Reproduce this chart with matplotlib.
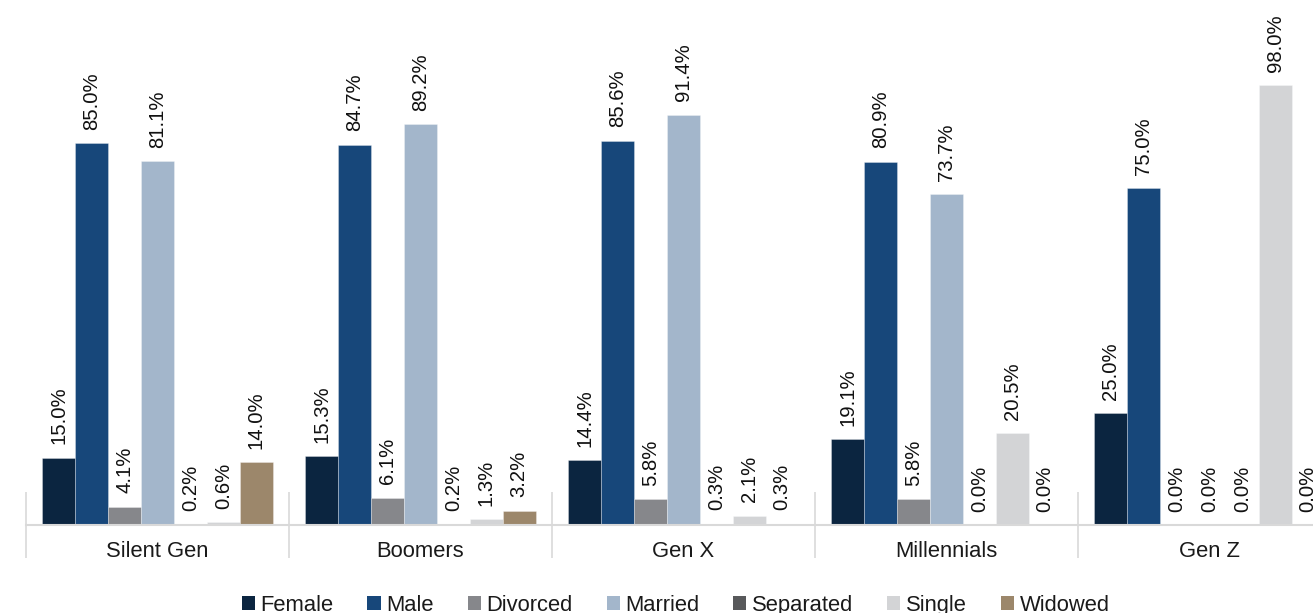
import matplotlib
matplotlib.use("Agg")
import matplotlib.pyplot as plt
from matplotlib.patches import Patch
import numpy as np

plt.rcParams['font.family'] = ['Liberation Sans', 'DejaVu Sans']

generations = ["Silent Gen", "Boomers", "Gen X", "Millennials", "Gen Z"]
series_names = ["Female", "Male", "Divorced", "Married", "Separated", "Single", "Widowed"]
female = [15.0, 15.3, 14.4, 19.1, 25.0]
male = [85.0, 84.7, 85.6, 80.9, 75.0]
divorced = [4.1, 6.1, 5.8, 5.8, 0.0]
married = [81.1, 89.2, 91.4, 73.7, 0.0]
separated = [0.2, 0.2, 0.3, 0.0, 0.0]
single = [0.6, 1.3, 2.1, 20.5, 98.0]
widowed = [14.0, 3.2, 0.3, 0.0, 0.0]
colors = ["#0b2540", "#17477a", "#86878b", "#a3b6cb", "#58595b", "#d3d4d6", "#9c876b"]

series = [female, male, divorced, married, separated, single, widowed]

fig = plt.figure(figsize=(13.13, 6.13), dpi=100)
ax = fig.add_axes([26/1313, 88/613, 1315/1313, 525/613])

x = np.arange(len(generations))
w = 0.125
for j, (vals, col) in enumerate(zip(series, colors)):
    pos = x + (j - 3) * w
    ax.bar(pos, vals, width=w, color=col, edgecolor=(1, 1, 1, 0.35), linewidth=0.6)
    for xi, v in zip(pos, vals):
        ax.annotate(f"{v:.1f}%", (xi, v), xytext=(0, 9.5), textcoords="offset points",
                    rotation=90, ha="center", va="bottom", fontsize=14.6, color="#111111",
                    annotation_clip=False)

ax.set_xlim(-0.5, 4.5)
ax.set_ylim(0, 116.9)
for s in ["top", "right", "left"]:
    ax.spines[s].set_visible(False)
ax.spines["bottom"].set_color("#d9d9d9")
ax.spines["bottom"].set_linewidth(1.5)
ax.set_yticks([])
ax.set_xticks(x)
ax.set_xticklabels(generations, fontsize=15.8, color="#1a1a1a")
ax.tick_params(axis="x", which="major", length=0, pad=11.5)
ax.set_xticks(np.arange(-0.5, 5.0, 1.0), minor=True)
ax.tick_params(axis="x", which="minor", direction="inout", length=47, width=1.2, color="#d9d9d9")

handles = [Patch(facecolor=c, edgecolor="none", label=n) for c, n in zip(colors, series_names)]
fig.legend(handles=handles, loc="center", bbox_to_anchor=(0.5145, 0.013), ncol=7, frameon=False,
           fontsize=15.8, handlelength=0.6, handleheight=0.6, handletextpad=0.25,
           columnspacing=1.55, borderpad=0, labelcolor="#1a1a1a")

fig.savefig("out.png", dpi=100)
